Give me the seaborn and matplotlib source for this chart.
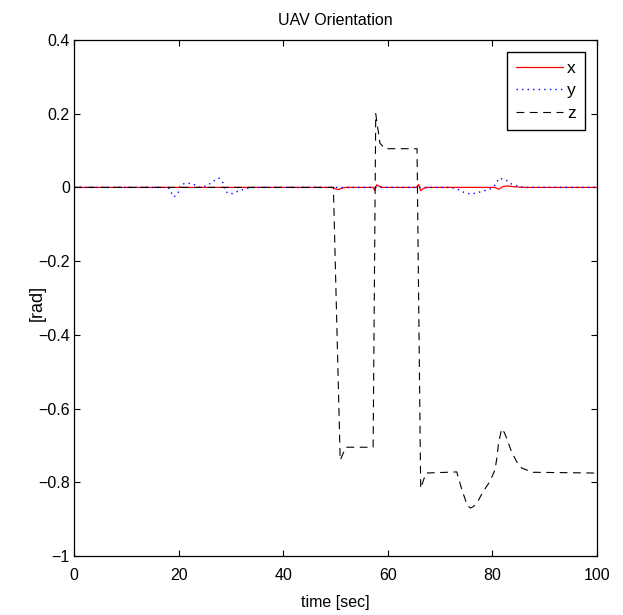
import pandas as pd
import seaborn as sns
import matplotlib
matplotlib.use('Agg')
import matplotlib.pyplot as plt

# UAV orientation traces (time in sec, angle in rad)
t_x = [0, 49.5, 50.0, 50.6, 51.2, 52.0, 57.2, 57.5, 57.9, 58.4, 59.0,
       65.5, 65.9, 66.3, 66.8, 67.5, 80.5, 81.2, 82.0, 82.8, 84.0, 86.0, 100]
x_rad = [0, 0, -0.004, -0.006, -0.002, 0, 0, -0.008, 0.007, 0.003, 0,
         0, 0.008, -0.009, -0.003, 0, 0, -0.005, 0.002, 0.004, 0.002, 0, 0]

t_y = [0, 18.0, 19.1, 19.9, 20.3, 21.4, 22.8, 24.0, 25.4, 26.6, 27.7,
       28.5, 29.0, 30.0, 31.4, 32.7, 34.0, 72.0, 73.4, 74.8, 75.9, 77.0,
       78.2, 79.5, 80.5, 81.3, 82.6, 83.7, 84.7, 86.0, 100]
y_rad = [0, 0, -0.026, -0.015, 0.006, 0.012, 0.009, 0, 0.004, 0.017, 0.025,
         0.012, -0.012, -0.018, -0.010, -0.004, 0, 0, -0.005, -0.015, -0.018,
         -0.015, -0.010, -0.005, 0.006, 0.025, 0.020, 0.009, 0.004, 0, 0]

t_z = [0, 49.6, 50.9, 52.0, 57.2, 57.7, 58.5, 59.5, 65.6, 66.3, 67.3,
       73.2, 74.2, 75.2, 75.8, 76.4, 77.2, 78.2, 79.5, 80.5, 80.9, 81.2,
       81.8, 82.3, 83.0, 83.7, 84.7, 85.7, 87.8, 100]
z_rad = [0, 0, -0.74, -0.705, -0.705, 0.2, 0.12, 0.105, 0.105, -0.817,
         -0.775, -0.772, -0.821, -0.862, -0.870, -0.866, -0.853, -0.826,
         -0.799, -0.767, -0.732, -0.693, -0.655, -0.665, -0.69, -0.718,
         -0.745, -0.762, -0.773, -0.775]

x_ticks = [0, 20, 40, 60, 80, 100]
y_ticks = [-1, -0.8, -0.6, -0.4, -0.2, 0, 0.2, 0.4]
y_tick_labels = ['\u22121', '\u22120.8', '\u22120.6', '\u22120.4', '\u22120.2',
                 '0', '0.2', '0.4']

sns.set_theme(style='ticks')
plt.rcParams['font.family'] = ['Liberation Sans', 'DejaVu Sans']
plt.rcParams['xtick.direction'] = 'in'
plt.rcParams['ytick.direction'] = 'in'
plt.rcParams['text.color'] = 'black'
plt.rcParams['axes.labelcolor'] = 'black'
plt.rcParams['xtick.labelcolor'] = 'black'
plt.rcParams['ytick.labelcolor'] = 'black'

df_x = pd.DataFrame({'time': t_x, 'rad': x_rad})
df_y = pd.DataFrame({'time': t_y, 'rad': y_rad})
df_z = pd.DataFrame({'time': t_z, 'rad': z_rad})

fig = plt.figure(figsize=(6.23, 6.15), dpi=100)
ax = fig.add_axes([0.119, 0.096, 0.839, 0.839])

sns.lineplot(x='time', y='rad', data=df_x, ax=ax, color='#ff0000',
             linewidth=0.9, label='x')
sns.lineplot(x='time', y='rad', data=df_y, ax=ax, color='#0000ff',
             linewidth=1.0, linestyle=(0, (1, 3)), label='y')
sns.lineplot(x='time', y='rad', data=df_z, ax=ax, color='black',
             linewidth=0.8, linestyle=(0, (7, 5)), label='z')

ax.set_xlim(0, 100)
ax.set_ylim(-1, 0.4)
ax.set_xticks(x_ticks)
ax.set_yticks(y_ticks)
ax.set_yticklabels(y_tick_labels)
ax.tick_params(axis='both', labelsize=11.5, length=4, width=0.8,
               top=True, right=True, color='black')
ax.tick_params(axis='y', pad=3)
ax.tick_params(axis='x', pad=9)
for side in ax.spines.values():
    side.set_visible(True)
    side.set_linewidth(0.9)
    side.set_color('black')

ax.set_title('UAV Orientation', fontsize=11.5, pad=11)
ax.set_xlabel('time [sec]', fontsize=11.5, labelpad=8)
ax.set_ylabel('[rad]', fontsize=13)
ax.yaxis.set_label_coords(-0.055, 0.49)

leg = ax.legend(loc='upper right', fontsize=12.5, frameon=True, fancybox=False,
                handlelength=2.7, handletextpad=0.25, borderpad=0.5,
                labelspacing=0.42, borderaxespad=0.7)
leg.get_frame().set_edgecolor('black')
leg.get_frame().set_linewidth(1.0)
leg.get_frame().set_alpha(1)

plt.savefig('out.png', dpi=100)
